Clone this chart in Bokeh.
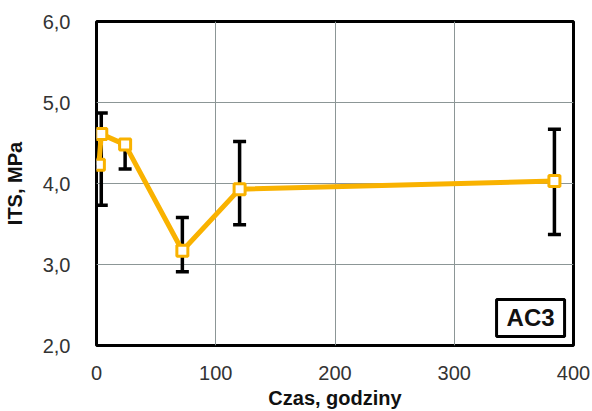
from bokeh.plotting import figure
from bokeh.models import ColumnDataSource, Whisker, TeeHead, Label, FixedTicker, Range1d
from bokeh.embed import file_html
from bokeh.resources import INLINE

# Data
hours = [2, 4, 24, 72, 120, 384]
its = [4.23, 4.61, 4.48, 3.17, 3.93, 4.03]
err_lower = [None, 3.73, 4.18, 2.91, 3.49, 3.37]
err_upper = [None, 4.87, 4.48, 3.58, 4.52, 4.67]

x_ticks = [0, 100, 200, 300, 400]
y_ticks = [2.0, 3.0, 4.0, 5.0, 6.0]
y_tick_labels = ["2,0", "3,0", "4,0", "5,0", "6,0"]

line_color = "#F9B200"
font = "Liberation Sans"

p = figure(width=592, height=411, output_backend="svg", toolbar_location=None,
           x_range=Range1d(0, 400), y_range=Range1d(2.0, 6.0),
           min_border_left=93, min_border_right=19, min_border_top=21, min_border_bottom=66)

p.outline_line_color = "black"
p.outline_line_width = 3
p.background_fill_color = "white"

for ax in (p.xaxis[0], p.yaxis[0]):
    ax.axis_line_color = None
    ax.major_tick_line_color = None
    ax.minor_tick_line_color = None
    ax.major_label_text_font = font
    ax.major_label_text_font_size = "20px"
    ax.major_label_text_color = "#333333"
    ax.axis_label_text_font = font
    ax.axis_label_text_font_size = "20px"
    ax.axis_label_text_font_style = "bold"
    ax.axis_label_text_color = "#111111"

p.xaxis.ticker = FixedTicker(ticks=x_ticks)
p.yaxis.ticker = FixedTicker(ticks=y_ticks)
p.yaxis.major_label_overrides = {t: l for t, l in zip(y_ticks, y_tick_labels)}
p.xaxis.major_label_standoff = 14
p.yaxis.major_label_standoff = 20
p.xaxis.axis_label = "Czas, godziny"
p.yaxis.axis_label = "ITS, MPa"
p.xaxis.axis_label_standoff = 4
p.yaxis.axis_label_standoff = 14

p.xgrid.grid_line_color = "#8c9696"
p.ygrid.grid_line_color = "#8c9696"
p.xgrid.grid_line_width = 1
p.ygrid.grid_line_width = 1

# error bars
eb_x = [h for h, lo in zip(hours, err_lower) if lo is not None]
eb_lo = [lo for lo in err_lower if lo is not None]
eb_hi = [hi for hi in err_upper if hi is not None]
eb_src = ColumnDataSource(dict(x=eb_x, lower=eb_lo, upper=eb_hi))
w = Whisker(source=eb_src, base="x", lower="lower", upper="upper",
            line_color="black", line_width=3.5,
            upper_head=TeeHead(size=13, line_color="black", line_width=3.5),
            lower_head=TeeHead(size=13, line_color="black", line_width=3.5))
p.add_layout(w)

src = ColumnDataSource(dict(x=hours, y=its))
p.line("x", "y", source=src, line_color=line_color, line_width=5)
p.scatter("x", "y", source=src, marker="square", size=11, fill_color="white",
          line_color=line_color, line_width=3)

lab = Label(x=364, y=2.34, text="AC3", text_align="center", text_baseline="middle",
            text_font=font, text_font_size="24px", text_font_style="bold",
            text_color="#111111", border_line_color="black", border_line_width=3,
            background_fill_color="white", padding=(10, 5))
p.add_layout(lab)

open("out.html", "w").write(file_html(p, INLINE))
